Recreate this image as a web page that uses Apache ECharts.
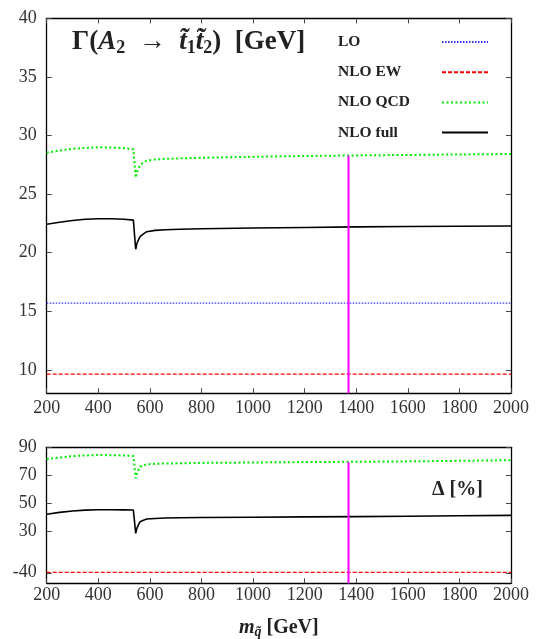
<!DOCTYPE html>
<html><head><meta charset="utf-8">
<script src="https://cdn.jsdelivr.net/npm/echarts@6/dist/echarts.min.js"></script>
<style>html,body{margin:0;padding:0;background:#fff}#c{width:536px;height:639px}</style>
</head><body><div id="c"></div>
<script>
// ---- data ----
const masses = [200,250,300,350,400,450,500,536,545,550,556,562,575,588,620,660,717,800,1000,1200,1400,1600,1800,2000];
const widthLO    = [15.7,15.7,15.7,15.7,15.7,15.7,15.7,15.7,15.7,15.7,15.7,15.7,15.7,15.7,15.7,15.7,15.7,15.7,15.7,15.7,15.7,15.7,15.7,15.7];
const widthNLOEW = [9.63,9.63,9.63,9.63,9.63,9.63,9.63,9.63,9.63,9.63,9.63,9.63,9.63,9.63,9.63,9.63,9.63,9.63,9.63,9.63,9.63,9.63,9.63,9.63];
const widthNLOQCD= [28.53,28.72,28.86,28.95,28.99,28.98,28.92,28.82,26.40,26.90,27.20,27.48,27.70,27.85,27.95,28.00,28.05,28.10,28.18,28.25,28.30,28.34,28.38,28.42];
const widthNLOfull=[22.42,22.60,22.75,22.85,22.90,22.90,22.85,22.78,20.29,20.80,21.10,21.37,21.60,21.79,21.90,21.96,22.00,22.04,22.10,22.15,22.20,22.23,22.26,22.28];
const deltaEW    = [-39.7,-39.7,-39.7,-39.7,-39.7,-39.7,-39.7,-39.7,-39.7,-39.7,-39.7,-39.7,-39.7,-39.7,-39.7,-39.7,-39.7,-39.7,-39.7,-39.7,-39.7,-39.7,-39.7,-39.7];
const deltaQCD   = [81.5,82.8,83.7,84.2,84.5,84.4,84.2,83.8,68.0,71.5,74.0,76.2,77.2,77.9,78.3,78.5,78.6,78.9,79.2,79.5,79.7,80.0,80.4,80.8];
const deltaFull  = [42.4,43.7,44.7,45.3,45.6,45.6,45.5,45.4,28.8,32.5,35.0,37.1,38.2,39.0,39.4,39.7,39.9,40.1,40.3,40.5,40.7,41.0,41.3,41.6];
const markerMass = 1370;
const markerTopWidth = 28.3;
const markerTopDelta = 79.5;
const xTicks = [200,400,600,800,1000,1200,1400,1600,1800,2000];
const yTicksTop = [10,15,20,25,30,35,40];
const yTicksBottom = [-40,30,50,70,90];

// bottom panel has a broken axis: values below 0 are shifted up
const SHIFT = 40.8;
const T = v => v < 0 ? v + SHIFT : v;
const invT = v => v < 20 ? v - SHIFT : v;

const FONT = 'Liberation Serif';
const pair = (xs, ys, f) => xs.map((x, i) => [x, f ? f(ys[i]) : ys[i]]);

const topMin = 8, topMax = 40;
const botMin = -6.7, botMax = 90;

const tickStyle = {show: true, inside: true, length: 5, lineStyle: {color: '#444', width: 1}};
const lineAx = {show: true, onZero: false, lineStyle: {color: '#000', width: 1.3}};
const lab = {fontFamily: FONT, fontSize: 18, color: '#333'};
const plain = v => String(v);

const chart = echarts.init(document.getElementById('c'));
chart.setOption({
  animation: false,
  backgroundColor: '#fff',
  grid: [
    {left: 46.7, top: 18.3, width: 464.3, height: 375, outerBoundsMode: 'none'},
    {left: 46.7, top: 447.3, width: 464.3, height: 136, outerBoundsMode: 'none'}
  ],
  title: [
    {
      left: 72, top: 27, padding: 0,
      text: '{n|Γ(}{i|A}{s|2}{n|  →  }{i|t\u0303}{s|1}{i|t\u0303}{s|2}{n|)  [GeV]}',
      textStyle: {rich: {
        n: {fontFamily: FONT, fontWeight: 'bold', fontSize: 27, lineHeight: 30, color: '#222'},
        i: {fontFamily: FONT, fontWeight: 'bold', fontStyle: 'italic', fontSize: 27, lineHeight: 30, color: '#222'},
        s: {fontFamily: FONT, fontWeight: 'bold', fontSize: 18, lineHeight: 12, verticalAlign: 'bottom', color: '#222'}
      }}
    },
    {
      left: 432, top: 479, padding: 0,
      text: '{d|Δ} {p|[%]}',
      textStyle: {rich: {
        d: {fontFamily: FONT, fontWeight: 'bold', fontSize: 20, lineHeight: 22, color: '#222'},
        p: {fontFamily: FONT, fontSize: 20, lineHeight: 22, color: '#222'}
      }}
    }
  ],
  legend: {
    data: ['LO', 'NLO EW', 'NLO QCD', 'NLO full'],
    orient: 'vertical', align: 'right',
    left: 338, top: 34, padding: 0,
    itemWidth: 46, itemHeight: 14, itemGap: 14.2,
    selectedMode: false,
    itemStyle: {opacity: 0},
    formatter: n => '{a|' + n + '}',
    textStyle: {rich: {a: {width: 99, align: 'left', fontFamily: FONT, fontWeight: 'bold', fontSize: 15.5, lineHeight: 14, color: '#222'}}}
  },
  xAxis: [
    {gridIndex: 0, type: 'value', position: 'bottom', min: 200, max: 2000, interval: 200,
     axisLine: lineAx, axisTick: tickStyle, splitLine: {show: false},
     axisLabel: Object.assign({margin: 6, formatter: plain}, lab)},
    {gridIndex: 0, type: 'value', position: 'top', min: 200, max: 2000, interval: 200,
     axisLine: lineAx, axisTick: tickStyle, splitLine: {show: false}, axisLabel: {show: false}},
    {gridIndex: 1, type: 'value', position: 'bottom', min: 200, max: 2000, interval: 200,
     axisLine: lineAx, axisTick: tickStyle, splitLine: {show: false},
     axisLabel: Object.assign({margin: 3, formatter: plain}, lab),
     name: '{i|m}{s|q\u0303}{n| [GeV]}', nameLocation: 'middle', nameGap: 34,
     nameTextStyle: {rich: {
       i: {fontFamily: FONT, fontWeight: 'bold', fontStyle: 'italic', fontSize: 20, lineHeight: 22, color: '#222'},
       s: {fontFamily: FONT, fontWeight: 'bold', fontStyle: 'italic', fontSize: 14, lineHeight: 12, verticalAlign: 'bottom', color: '#222'},
       n: {fontFamily: FONT, fontWeight: 'bold', fontSize: 20, lineHeight: 22, color: '#222'}
     }}},
    {gridIndex: 1, type: 'value', position: 'top', min: 200, max: 2000,
     axisLine: lineAx, axisTick: {show: false}, splitLine: {show: false}, axisLabel: {show: false}}
  ],
  yAxis: [
    {gridIndex: 0, type: 'value', position: 'left', min: topMin, max: topMax,
     axisLine: lineAx, axisTick: Object.assign({customValues: yTicksTop}, tickStyle), splitLine: {show: false},
     axisLabel: Object.assign({margin: 10, customValues: yTicksTop}, lab)},
    {gridIndex: 0, type: 'value', position: 'right', min: topMin, max: topMax,
     axisLine: lineAx, axisTick: Object.assign({customValues: yTicksTop}, tickStyle), splitLine: {show: false},
     axisLabel: {show: false, customValues: yTicksTop}},
    {gridIndex: 1, type: 'value', position: 'left', min: botMin, max: botMax,
     axisLine: lineAx, axisTick: Object.assign({customValues: yTicksBottom.map(T)}, tickStyle), splitLine: {show: false},
     axisLabel: Object.assign({margin: 10, customValues: yTicksBottom.map(T), formatter: v => String(Math.round(invT(v)))}, lab)},
    {gridIndex: 1, type: 'value', position: 'right', min: botMin, max: botMax,
     axisLine: lineAx, axisTick: Object.assign({customValues: yTicksBottom.map(T)}, tickStyle), splitLine: {show: false},
     axisLabel: {show: false, customValues: yTicksBottom.map(T)}}
  ],
  series: [
    {name: 'LO', type: 'line', xAxisIndex: 0, yAxisIndex: 0, symbol: 'none', data: pair(masses, widthLO),
     lineStyle: {color: '#3535ff', width: 1.3, type: [1.5, 1.5]}, itemStyle: {color: '#3535ff'}},
    {name: 'NLO EW', type: 'line', xAxisIndex: 0, yAxisIndex: 0, symbol: 'none', data: pair(masses, widthNLOEW),
     lineStyle: {color: '#ff0000', width: 1.3, type: [4, 2]}, itemStyle: {color: '#ff0000'}},
    {name: 'NLO QCD', type: 'line', xAxisIndex: 0, yAxisIndex: 0, symbol: 'none', data: pair(masses, widthNLOQCD),
     lineStyle: {color: '#00ee00', width: 2, type: [2, 2.5]}, itemStyle: {color: '#00ee00'}},
    {name: 'NLO full', type: 'line', xAxisIndex: 0, yAxisIndex: 0, symbol: 'none', data: pair(masses, widthNLOfull),
     lineStyle: {color: '#000', width: 1.6, type: 'solid'}, itemStyle: {color: '#000'}},
    {name: 'marker top', type: 'line', xAxisIndex: 0, yAxisIndex: 0, symbol: 'none',
     data: [[markerMass, topMin], [markerMass, markerTopWidth]], lineStyle: {color: '#ff00ff', width: 2}},

    {name: 'Δ EW', type: 'line', xAxisIndex: 2, yAxisIndex: 2, symbol: 'none', data: pair(masses, deltaEW, T),
     lineStyle: {color: '#ff0000', width: 1.3, type: [4, 2]}},
    {name: 'Δ QCD', type: 'line', xAxisIndex: 2, yAxisIndex: 2, symbol: 'none', data: pair(masses, deltaQCD, T),
     lineStyle: {color: '#00ee00', width: 2, type: [2, 2.5]}},
    {name: 'Δ full', type: 'line', xAxisIndex: 2, yAxisIndex: 2, symbol: 'none', data: pair(masses, deltaFull, T),
     lineStyle: {color: '#000', width: 1.6}},
    {name: 'marker bottom', type: 'line', xAxisIndex: 2, yAxisIndex: 2, symbol: 'none',
     data: [[markerMass, botMin], [markerMass, T(markerTopDelta)]], lineStyle: {color: '#ff00ff', width: 2}}
  ]
});
</script>
</body></html>
